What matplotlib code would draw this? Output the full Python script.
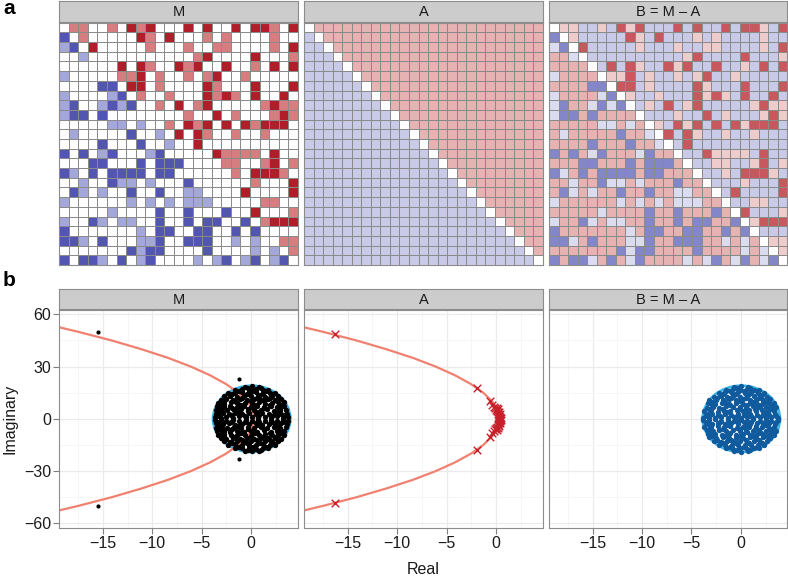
"""
Matrizes M, A e B = M - A (heatmaps) e os respectivos autovalores no plano complexo.
"""

import numpy as np
import matplotlib
matplotlib.use("Agg")
import matplotlib.pyplot as plt
from matplotlib.colors import LinearSegmentedColormap
from matplotlib.patches import Ellipse

plt.rcParams["font.family"] = ["Liberation Sans", "DejaVu Sans"]

W, H = 788, 579

# --- painel a: matriz M (R/r = positivo forte/fraco, B/b = negativo forte/fraco)
M_ROWS = [
    ".rr..r.RrR...R.R..R.RRr.R",
    "B.r.....Rr.R...r.r....r..",
    "bB.R.....r...r..rr....r.R",
    "..b...........rR....R...r",
    "......R.Rr..RrR..R..r.R.R",
    "b.....rrR.r..r.rR..r.....",
    "....BB.RR.r....Rr...R...R",
    "b....bB.r..r...RrRr.R..R.",
    "bB..bBbB..r.R.rR.....rRrr",
    "bBB.B........r..R.r...rRr",
    ".....bb.b..r.RrR.R.RrRRR.",
    ".b.....B..b.R.Rr..r..r...",
    "....B...B..b..R..........",
    "B.B.bB...bB.....Rrrrr.R..",
    "...BB...B.BBB....rr..rR.r",
    "Bb.B.BBBB.BB......r.RRRr.",
    "..b..Bbb.b...B......r...R",
    ".Bb.b..B..B..bb....R....R",
    "b......b.b.b.bbb.....rr..",
    ".....b....B..B...B..R...r",
    "b..Bb.bb..B..B.BB..B.rRRR",
    "B.......b.BB..BB..B.B....",
    "BBb.B...bbB..BBB..b.b..rr",
    ".......BbBB....B....b.b.r",
    "B.BBb.B.bB....b.bB.bB.bB.",
]
LEVELS = {"R": 2.0, "r": 1.0, ".": 0.0, "b": -1.0, "B": -2.0}
A_UPPER = 0.6
A_LOWER = -0.6

# --- painel b: curva de referência (ramo superior), real x imaginário
CURVE_X = [0.3, 0.26, 0.1, -0.1, -0.4, -1.3, -2.55, -4.15, -6.1, -8.4, -11.1, -14.1, -17.5, -21.2]
CURVE_Y = [0.0, 2.5, 5.0, 7.5, 10.0, 15.0, 20.0, 25.0, 30.0, 35.0, 40.0, 45.0, 50.0, 55.0]

ELLIPSE_CENTER = (0.05, 0.0)
ELLIPSE_RX = 3.9
ELLIPSE_RY = 19.0

# autovalores de M fora da nuvem (pares conjugados)
M_OUT_X = [-15.5, -1.2]
M_OUT_Y = [50.0, 23.0]

# nuvem de autovalores de M, metade superior (pares conjugados)
M_CLOUD = [
    (-3.7, 0.9), (-3.1, 0.6), (-2.5, 1.2), (-1.8, 0.7), (-1.2, 1.4), (-0.5, 0.8), (0.1, 1.1),
    (0.7, 0.5), (1.4, 1.3), (2.0, 0.9), (2.6, 1.5), (3.2, 0.7), (3.7, 1.2),
    (-3.3, 1.9), (-2.0, 2.0), (-0.6, 1.8), (0.8, 2.0), (2.1, 1.9), (3.4, 2.0),
    (-3.6, 2.6), (-2.9, 3.1), (-2.2, 2.5), (-1.6, 3.3), (-0.9, 2.7), (-0.2, 3.2), (0.5, 2.6),
    (1.1, 3.4), (1.8, 2.8), (2.4, 3.2), (3.0, 2.5), (3.6, 3.0),
    (-3.3, 3.9), (-1.3, 4.0), (0.6, 3.8), (2.7, 4.0),
    (-3.6, 5.0), (-3.0, 4.6), (-2.4, 5.3), (-1.7, 4.8), (-1.0, 5.4), (-0.3, 4.7), (0.3, 5.2),
    (1.0, 4.9), (1.6, 5.5), (2.3, 4.6), (2.9, 5.3), (3.5, 4.8),
    (-3.2, 6.0), (-1.9, 6.1), (-0.3, 5.9), (1.3, 6.1), (2.9, 5.9),
    (-3.5, 7.2), (-2.8, 6.7), (-2.1, 7.4), (-1.4, 6.9), (-0.7, 7.5), (0.0, 6.8), (0.6, 7.3),
    (1.3, 6.6), (2.0, 7.4), (2.6, 6.9), (3.3, 7.2),
    (-3.0, 8.0), (-1.0, 7.9), (0.4, 8.1), (1.9, 8.0), (3.0, 8.0),
    (-3.4, 9.1), (-2.7, 8.7), (-2.0, 9.4), (-1.3, 8.8), (-0.6, 9.3), (0.1, 8.9), (0.8, 9.5),
    (1.4, 8.7), (2.1, 9.2), (2.8, 8.8), (3.3, 9.4),
    (-2.8, 10.1), (-1.5, 9.9), (0.0, 10.1), (1.3, 10.0), (2.6, 10.1),
    (-3.1, 11.0), (-2.5, 11.4), (-1.8, 10.8), (-1.1, 11.3), (-0.4, 10.9), (0.3, 11.5),
    (1.0, 10.9), (1.7, 11.2), (2.4, 10.8), (3.0, 11.3),
    (-2.6, 12.1), (-0.9, 11.9), (0.6, 12.1), (1.9, 12.0),
    (-2.8, 12.9), (-2.1, 13.3), (-1.4, 12.8), (-0.7, 13.4), (0.0, 12.9), (0.7, 13.3),
    (1.4, 12.7), (2.1, 13.2), (2.7, 12.9),
    (-1.9, 14.0), (-0.4, 14.1), (0.9, 13.9), (2.2, 14.0),
    (-2.3, 15.0), (-1.6, 14.7), (-0.9, 15.3), (-0.2, 14.8), (0.5, 15.2), (1.2, 14.7),
    (1.9, 15.1), (2.4, 14.8),
    (-1.2, 15.9), (0.2, 16.0), (1.5, 15.9),
    (-1.6, 16.7), (-0.9, 17.0), (-0.2, 16.6), (0.5, 17.1), (1.2, 16.8), (1.7, 16.5),
    (-0.3, 17.7), (1.0, 17.6),
    (-0.6, 18.3), (0.1, 18.6), (0.8, 18.2),
]

# nuvem de autovalores de B, metade superior
B_CLOUD = [
    (-3.8, 0.4), (-3.2, 0.9), (-2.6, 0.3), (-2.0, 1.0), (-1.3, 0.5), (-0.7, 1.2), (0.0, 0.4),
    (0.6, 1.0), (1.2, 0.3), (1.9, 1.1), (2.5, 0.6), (3.1, 1.2), (3.8, 0.5),
    (-3.4, 1.6), (-2.1, 1.7), (-0.4, 1.5), (1.0, 1.8), (2.4, 1.6), (3.6, 1.7),
    (-3.5, 2.2), (-2.9, 2.8), (-2.3, 2.1), (-1.6, 2.9), (-1.0, 2.3), (-0.3, 2.7), (0.3, 2.0),
    (0.9, 2.8), (1.6, 2.2), (2.2, 2.9), (2.8, 2.3), (3.5, 2.7),
    (-3.2, 3.6), (-1.4, 3.7), (0.5, 3.5), (2.5, 3.7),
    (-3.7, 4.4), (-3.0, 4.9), (-2.3, 4.2), (-1.7, 4.7), (-1.1, 4.3), (-0.4, 5.0), (0.2, 4.4),
    (0.8, 4.9), (1.5, 4.3), (2.1, 4.8), (2.7, 4.2), (3.4, 4.7),
    (-3.1, 5.7), (-1.8, 5.6), (-0.1, 5.8), (1.4, 5.6), (3.0, 5.8),
    (-3.4, 6.5), (-2.8, 7.0), (-2.2, 6.4), (-1.5, 7.1), (-0.8, 6.6), (-0.1, 7.0), (0.5, 6.4),
    (1.2, 7.1), (1.8, 6.6), (2.5, 7.0), (3.1, 6.5), (3.6, 7.0),
    (-2.9, 7.8), (-1.1, 7.9), (0.6, 7.7), (2.0, 7.9), (3.2, 7.9),
    (-3.3, 8.9), (-2.6, 8.5), (-1.9, 9.1), (-1.2, 8.6), (-0.5, 9.2), (0.2, 8.6), (0.9, 9.0),
    (1.6, 8.5), (2.2, 9.1), (2.9, 8.7), (3.4, 9.2),
    (-2.9, 9.9), (-1.6, 9.8), (-0.1, 10.0), (1.2, 9.8), (2.6, 9.9),
    (-3.2, 10.7), (-2.5, 11.1), (-1.8, 10.6), (-1.2, 11.2), (-0.5, 10.8), (0.2, 11.2),
    (0.9, 10.6), (1.5, 11.1), (2.2, 10.7), (2.9, 11.2),
    (-2.4, 12.0), (-1.0, 11.9), (0.5, 12.0), (1.8, 11.9),
    (-2.7, 12.8), (-2.0, 13.2), (-1.4, 12.7), (-0.8, 13.3), (-0.1, 12.8), (0.6, 13.4),
    (1.3, 12.9), (1.9, 13.3), (2.6, 12.8),
    (-1.8, 14.0), (-0.5, 14.0), (0.8, 14.1), (2.1, 13.9),
    (-2.2, 14.9), (-1.6, 15.3), (-0.9, 14.8), (-0.3, 15.2), (0.4, 14.9), (1.0, 15.3),
    (1.7, 14.8), (2.3, 15.1),
    (-1.1, 16.0), (0.3, 15.9), (1.6, 16.0),
    (-1.5, 16.8), (-0.8, 17.1), (-0.1, 16.7), (0.6, 17.2), (1.3, 16.8), (1.8, 16.6),
    (-0.4, 17.8), (0.9, 17.7),
    (-0.7, 18.4), (0.0, 18.8), (0.7, 18.3),
]

# autovalores de A, metade superior
A_EIG = [
    (-16.3, 48.6), (-1.95, 17.8), (-0.6, 10.5), (-0.4, 8.2), (-0.25, 7.0), (-0.1, 6.0),
    (0.05, 6.5), (0.0, 5.2), (0.2, 5.5), (0.1, 4.4), (0.3, 4.0), (0.15, 3.7), (0.2, 3.0),
    (0.35, 2.6), (0.25, 2.3), (0.3, 1.6), (0.4, 1.2), (0.3, 0.9), (0.45, 0.6), (0.35, 0.3),
]

PANEL_TITLES = ["M", "A", "B = M \u2013 A"]
PANEL_X = [(59.3, 297.7), (304.0, 542.7), (549.0, 787.3)]

CMAP = LinearSegmentedColormap.from_list(
    "rb", [(0.0, "#5256B0"), (0.25, "#A4A7D9"), (0.5, "#FFFFFF"),
           (0.75, "#D67F80"), (1.0, "#B01E2A")])
CURVE_COLOR = "#F08170"
ELLIPSE_COLOR = "#3CB4E5"
B_COLOR = "#105A9E"
A_COLOR = "#C8202A"
TEXT_COLOR = "#1a1a1a"


def px_axes(fig, x0, y0, x1, y1):
    return fig.add_axes([x0 / W, 1 - y1 / H, (x1 - x0) / W, (y1 - y0) / H])


def add_strip(fig, x0, x1, y0, y1, text):
    ax = px_axes(fig, x0, y0, x1, y1)
    ax.set_facecolor("#CCCCCC")
    ax.set_xticks([])
    ax.set_yticks([])
    for sp in ax.spines.values():
        sp.set_color("#8C8C8C")
        sp.set_linewidth(0.8)
    ax.text(0.5, 0.47, text, ha="center", va="center", fontsize=10.5, color=TEXT_COLOR,
            transform=ax.transAxes)


def mirror(points):
    pts = np.array(points)
    return np.concatenate([pts[:, 0], pts[:, 0]]), np.concatenate([pts[:, 1], -pts[:, 1]])


def main():
    m = np.array([[LEVELS[c] for c in row] for row in M_ROWS])
    n = m.shape[0]
    a = np.zeros((n, n))
    a[np.triu_indices(n, 1)] = A_UPPER
    a[np.tril_indices(n, -1)] = A_LOWER
    b = m - a

    fig = plt.figure(figsize=(W / 100, H / 100), dpi=100)

    # linha a: heatmaps
    for (x0, x1), title, mat in zip(PANEL_X, PANEL_TITLES, (m, a, b)):
        add_strip(fig, x0, x1, 1.0, 21.5, title)
        ax = px_axes(fig, x0, 22.7, x1, 265.0)
        ax.pcolormesh(mat, cmap=CMAP, vmin=-2, vmax=2, edgecolors="#8a8a8a", linewidth=0.5)
        ax.set_xlim(0, n)
        ax.set_ylim(n, 0)
        ax.set_xticks([])
        ax.set_yticks([])
        for sp in ax.spines.values():
            sp.set_color("#8C8C8C")
            sp.set_linewidth(0.8)

    # linha b: autovalores
    cx = CURVE_X[::-1] + CURVE_X[1:]
    cy = [-v for v in CURVE_Y[::-1]] + CURVE_Y[1:]
    mx, my = mirror(M_CLOUD)
    bx, by = mirror(B_CLOUD)
    ox, oy = mirror(list(zip(M_OUT_X, M_OUT_Y)))
    ex, ey = mirror(A_EIG)

    for i, ((x0, x1), title) in enumerate(zip(PANEL_X, PANEL_TITLES)):
        add_strip(fig, x0, x1, 288.5, 309.3, title)
        ax = px_axes(fig, x0, 310.0, x1, 527.7)
        ax.set_xlim(-19.4, 4.7)
        ax.set_ylim(-62.5, 62.5)
        ax.set_xticks([-15, -10, -5, 0])
        ax.set_xticks([-17.5, -12.5, -7.5, -2.5, 2.5], minor=True)
        ax.set_yticks([-60, -30, 0, 30, 60])
        ax.set_yticks([-45, -15, 15, 45], minor=True)
        ax.grid(True, which="major", color="#EBEBEB", linewidth=0.9)
        ax.grid(True, which="minor", color="#F5F5F5", linewidth=0.6)
        ax.set_axisbelow(True)
        ax.tick_params(which="major", length=4, color="#7F7F7F", labelsize=11.5,
                       labelcolor=TEXT_COLOR, pad=2)
        ax.tick_params(which="minor", length=0)
        for sp in ax.spines.values():
            sp.set_color("#8C8C8C")
            sp.set_linewidth(0.8)
        if i > 0:
            ax.tick_params(axis="y", which="both", left=False, labelleft=False)

        if i in (0, 2):
            ax.add_patch(Ellipse(ELLIPSE_CENTER, 2 * ELLIPSE_RX, 2 * ELLIPSE_RY,
                                 fill=False, edgecolor=ELLIPSE_COLOR, linewidth=2.0, zorder=2))
        if i in (0, 1):
            ax.plot(cx, cy, color=CURVE_COLOR, linewidth=1.6, zorder=2)

        if i == 0:
            ax.scatter(mx, my, s=15, color="black", linewidths=0, zorder=3)
            ax.scatter(ox, oy, s=9, color="black", linewidths=0, zorder=3)
        elif i == 1:
            ax.scatter(ex, ey, marker="x", s=30, color=A_COLOR, linewidths=1.0, zorder=3)
        else:
            ax.scatter(bx, by, s=15, color=B_COLOR, linewidths=0, zorder=3)

    fig.text(9 / W, 1 - 8 / H, "a", fontsize=15, fontweight="bold", ha="center", va="center")
    fig.text(9 / W, 1 - 280 / H, "b", fontsize=15, fontweight="bold", ha="center", va="center")
    fig.text(10 / W, 1 - 419 / H, "Imaginary", rotation=90, fontsize=11.5, ha="center",
             va="center", color=TEXT_COLOR)
    fig.text(423 / W, 1 - 569 / H, "Real", fontsize=11.5, ha="center", va="center",
             color=TEXT_COLOR)

    fig.savefig("out.png", dpi=100)
    plt.close(fig)


if __name__ == "__main__":
    main()
